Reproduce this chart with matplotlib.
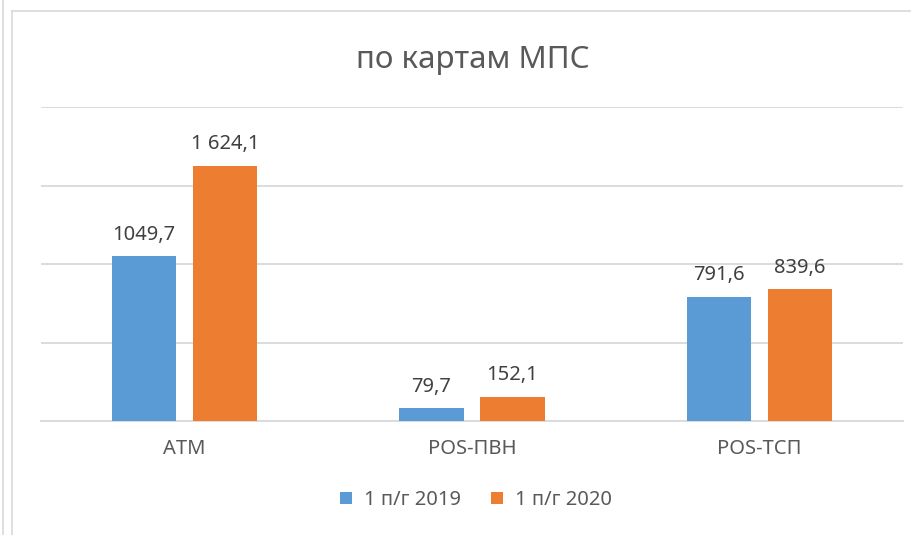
import matplotlib.pyplot as plt
import numpy as np
from matplotlib.lines import Line2D

categories = ['ATM', 'POS-ПВН', 'POS-ТСП']
series_names = ['1 п/г 2019', '1 п/г 2020']
values_2019 = [1049.7, 79.7, 791.6]
values_2020 = [1624.1, 152.1, 839.6]
labels_2019 = ['1049,7', '79,7', '791,6']
labels_2020 = ['1 624,1', '152,1', '839,6']

plt.rcParams['font.family'] = ['Noto Sans', 'DejaVu Sans']
txt = '#595959'
grid_c = '#D9D9D9'

fig = plt.figure(figsize=(9.11, 5.35), dpi=100)
ax = fig.add_axes([41 / 911, 1 - 421 / 535, (903 - 41) / 911, (421 - 107) / 535])

x = np.arange(len(categories))
w = 0.223
off = 0.141
b1 = ax.bar(x - off, values_2019, w, color='#5B9BD5', label=series_names[0], zorder=3)
b2 = ax.bar(x + off, values_2020, w, color='#ED7D31', label=series_names[1], zorder=3)

for bars, labs in ((b1, labels_2019), (b2, labels_2020)):
    for r, s in zip(bars, labs):
        ax.annotate(s, (r.get_x() + r.get_width() / 2, r.get_height()),
                    xytext=(0, 12), textcoords='offset points',
                    ha='center', va='baseline', fontsize=14.5, color='#404040')

ax.set_xlim(-0.5, 2.5)
ax.set_ylim(0, 2000)
ax.set_yticks([0, 500, 1000, 1500, 2000])
ax.yaxis.grid(True, color=grid_c, linewidth=1.3, zorder=0)
ax.set_yticklabels([])
ax.tick_params(axis='y', length=0)
ax.set_xticks(x)
ax.set_xticklabels(categories, fontsize=14.5, color=txt)
ax.tick_params(axis='x', length=0, pad=13)
for s in ['top', 'right', 'left']:
    ax.spines[s].set_visible(False)
ax.spines['bottom'].set_color(grid_c)
ax.spines['bottom'].set_linewidth(1.3)

fig.text(473 / 911, 1 - 60 / 535, 'по картам МПС', ha='center', va='center',
         fontsize=22.5, color=txt)

fig.legend(loc='center', bbox_to_anchor=(476 / 911, 1 - 500 / 535), ncol=2,
           frameon=False, fontsize=14.5, labelcolor=txt, handlelength=0.6,
           handleheight=0.6, columnspacing=1.5, handletextpad=0.6)

# chart border lines
fig.add_artist(Line2D([12 / 911, 12 / 911], [0, 1 - 11 / 535], color=grid_c, lw=1.2))
fig.add_artist(Line2D([12 / 911, 1], [1 - 11 / 535, 1 - 11 / 535], color=grid_c, lw=1.2))
fig.add_artist(Line2D([2.5 / 911, 2.5 / 911], [0, 1], color=grid_c, lw=1.2))

fig.savefig('out.png', dpi=100)
